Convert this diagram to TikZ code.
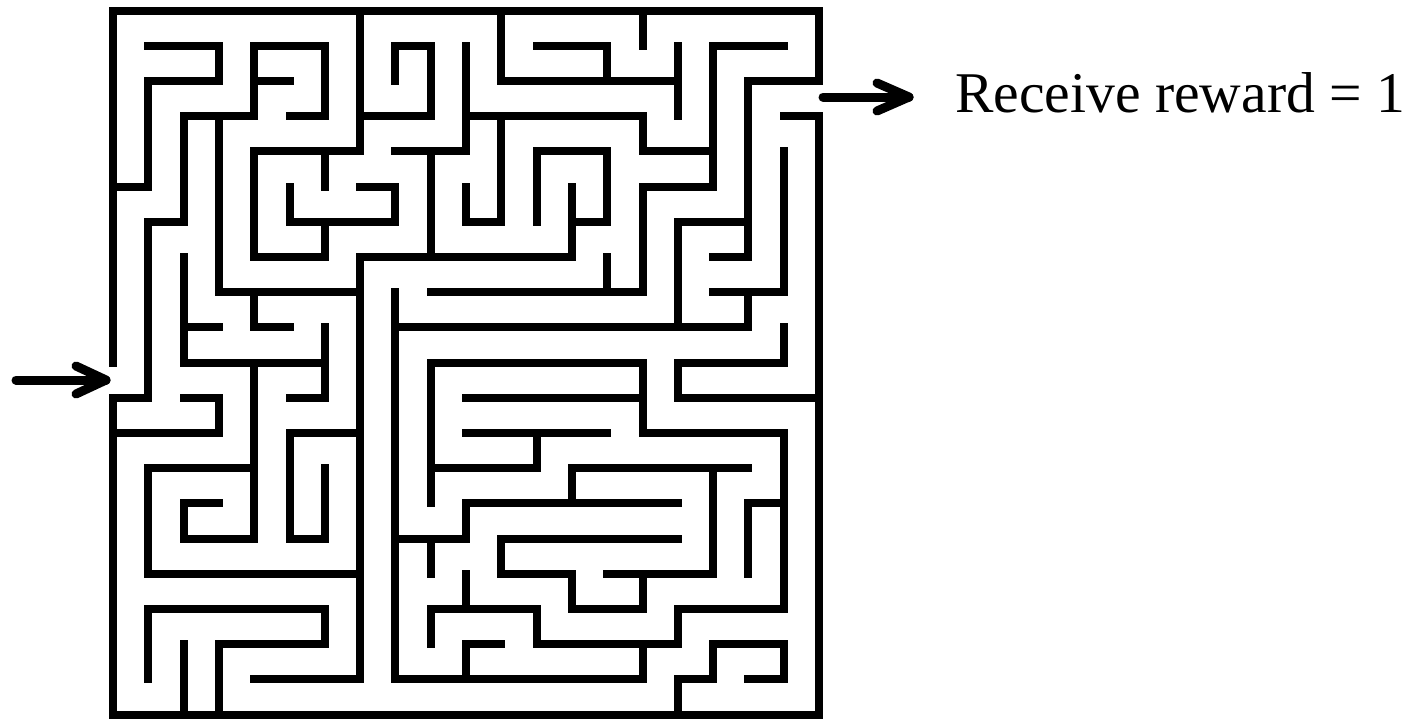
\documentclass[tikz,border=0pt]{standalone}
\usepackage{fontspec}
\setmainfont{Liberation Serif}
\begin{document}
\begin{tikzpicture}[x=1pt,y=-1pt,
  wall/.style={line width=8pt,line cap=rect,line join=miter},
  pointer/.style={line width=9pt,line cap=round,line join=round}]
\useasboundingbox (0,0) rectangle (1420,718);
\begin{scope}[shift={(113pt,-10.5pt)},x=35.3pt,y=-35.2pt]
% outer walls
\draw[wall] (0,10)--(0,0)--(20,0)--(20,2)--(18,2)--(18,7)--(17,7);
\draw[wall] (0,11)--(0,20)--(20,20)--(20,3)--(19,3);
% inner walls
\draw[wall] (1,1)--(3,1)--(3,2)--(1,2)--(1,5)--(0,5);
\draw[wall] (1,6)--(2,6)--(2,3)--(4,3)--(4,1)--(6,1)--(6,3)--(5,3);
\draw[wall] (4,2)--(5,2);
\draw[wall] (1,6)--(1,11)--(0,11);
\draw[wall] (3,3)--(3,8)--(7,8);
\draw[wall] (7,0)--(7,4)--(4,4)--(4,7)--(6,7)--(6,6);
\draw[wall] (5,5)--(5,6)--(8,6)--(8,5)--(7,5);
\draw[wall] (6,4)--(6,5);
\draw[wall] (8,2)--(8,1)--(9,1)--(9,3)--(7,3);
\draw[wall] (10,1)--(10,4)--(8,4);
\draw[wall] (10,3)--(15,3)--(15,4)--(17,4);
\draw[wall] (11,0)--(11,2)--(16,2);
\draw[wall] (12,1)--(14,1)--(14,2);
\draw[wall] (16,1)--(16,3);
\draw[wall] (15,0)--(15,1);
\draw[wall] (19,1)--(17,1)--(17,5)--(15,5)--(15,8)--(9,8);
\draw[wall] (11,3)--(11,6)--(10,6)--(10,5);
\draw[wall] (9,4)--(9,7);
\draw[wall] (12,6)--(12,4)--(14,4)--(14,6)--(13,6);
\draw[wall] (13,5)--(13,7)--(7,7)--(7,19)--(4,19);
\draw[wall] (4,13)--(1,13)--(1,16)--(7,16);
\draw[wall] (18,6)--(16,6)--(16,9);
\draw[wall] (8,9)--(18,9)--(18,8);
\draw[wall] (17,8)--(19,8)--(19,4);
\draw[wall] (14,7)--(14,8);
\draw[wall] (2,7)--(2,10)--(6,10);
\draw[wall] (2,9)--(3,9);
\draw[wall] (6,9)--(6,11)--(5,11);
\draw[wall] (4,8)--(4,9)--(5,9);
\draw[wall] (3,14)--(2,14)--(2,15)--(4,15)--(4,10);
\draw[wall] (2,11)--(3,11)--(3,12)--(0,12);
\draw[wall] (7,12)--(5,12)--(5,15)--(6,15)--(6,13);
\draw[wall] (1,19)--(1,17)--(6,17)--(6,18)--(3,18)--(3,20);
\draw[wall] (2,18)--(2,20);
\draw[wall] (9,14)--(9,10)--(15,10)--(15,12)--(19,12)--(19,17)--(16,17)--(16,18)--(12,18)--(12,17)--(9,17)--(9,18);
\draw[wall] (10,16)--(10,17);
\draw[wall] (10,11)--(15,11);
\draw[wall] (10,12)--(14,12);
\draw[wall] (12,12)--(12,13)--(9,13);
\draw[wall] (13,14)--(13,13)--(18,13);
\draw[wall] (17,13)--(17,16)--(14,16);
\draw[wall] (19,9)--(19,10)--(16,10)--(16,11)--(20,11);
\draw[wall] (16,14)--(10,14)--(10,15)--(8,15);
\draw[wall] (9,15)--(9,16);
\draw[wall] (16,15)--(11,15)--(11,16)--(13,16)--(13,17)--(15,17)--(15,16);
\draw[wall] (8,8)--(8,19)--(15,19)--(15,18);
\draw[wall] (11,18)--(10,18)--(10,19);
\draw[wall] (18,16)--(18,14)--(19,14);
\draw[wall] (16,20)--(16,19)--(17,19)--(17,18)--(19,18)--(19,19)--(18,19);
\end{scope}
% entrance arrow
\coordinate (inTail) at (16,380);
\coordinate (inTip) at (106,380);
\coordinate (inArmA) at (76,366);
\coordinate (inArmB) at (76,394);
\draw[pointer] (inTail) -- (inTip);
\draw[pointer] (inArmA) -- (inTip) -- (inArmB);
% exit arrow and label
\node[anchor=base west,inner sep=0pt,font=\fontsize{57.6}{60}\selectfont] (reward) at (955,112) {Receive reward = 1};
\coordinate (outTail) at (823,97);
\coordinate (outTip) at (909,97);
\coordinate (outArmA) at (877,83);
\coordinate (outArmB) at (877,111);
\draw[pointer] (outTail) -- (outTip);
\draw[pointer] (outArmA) -- (outTip) -- (outArmB);
\end{tikzpicture}
\end{document}
